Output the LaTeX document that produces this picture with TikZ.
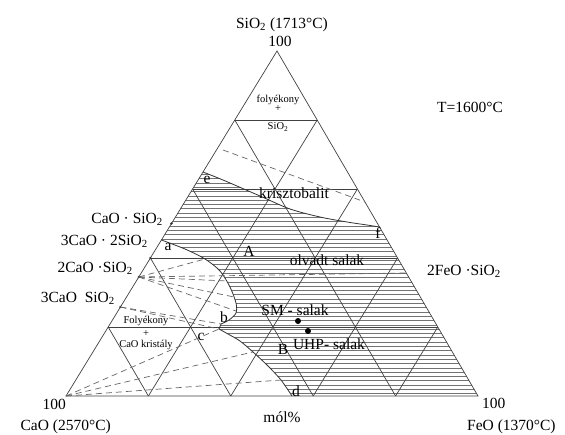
\documentclass[tikz,border=0pt]{standalone}
\usepackage{fontspec}
\setmainfont{Liberation Serif}
\usetikzlibrary{calc}
\tikzset{
  gridline/.style={line width=0.7pt, draw=black!75},
  bound/.style={line width=0.8pt, draw=black!80},
  tie/.style={line width=0.7pt, draw=black!60, dash pattern=on 6pt off 4pt},
  hatch/.style={line width=0.55pt, draw=black!55},
  lab/.style={font=\fontsize{15.5}{18}\selectfont, inner sep=0pt},
  smalllab/.style={font=\fontsize{10.5}{12}\selectfont, inner sep=0pt},
}
\begin{document}
\begin{tikzpicture}[x=1pt,y=-1pt]
\useasboundingbox (0,0) rectangle (565,434);
\coordinate (L) at (66,396);
\coordinate (R) at (478,396);
\coordinate (T) at (277,51);
% hatching of the liquid slag region
\begin{scope}
\clip plot[smooth] coordinates {(203,172) (223,180) (260,196) (290,209) (320,217) (347,222) (367,225) (379.5,227)}
  -- (R) -- (292,396)
  -- plot[smooth] coordinates {(292,396) (281,380) (268,366) (253,352) (240,341) (228,334) (219,329)}
  -- plot[smooth] coordinates {(221,324) (229,320) (236,313) (236,303) (230,287) (220,271) (205,259) (185,249) (161.4,240)}
  -- cycle;
\foreach \y in {170,174.3,...,398} \draw[hatch] (60,\y) -- (490,\y);
\end{scope}
% grid
\foreach \k in {1,2,3,4}{
  \draw[gridline] ($(L)!\k/5!(T)$) -- ($(R)!\k/5!(T)$);
  \draw[gridline] ($(L)!\k/5!(R)$) -- ($(L)!\k/5!(T)$);
  \draw[gridline] ($(L)!\k/5!(R)$) -- ($(R)!{1-\k/5}!(T)$);
}
\draw[gridline] (L) -- (R) -- (T) -- cycle;
% boundary curves
\draw[bound] plot[smooth] coordinates {(203,172) (223,180) (260,196) (290,209) (320,217) (347,222) (367,225) (379.5,227)};
\draw[bound] plot[smooth] coordinates {(161.4,240) (185,249) (205,259) (220,271) (230,287) (236,303) (236,313) (229,320) (221,324)};
\draw[bound] (221,324) -- (219,329);
\draw[bound] plot[smooth] coordinates {(219,329) (228,334) (240,341) (253,352) (268,366) (281,380) (292,396)};
% compound points
\coordinate (CS) at ($(L)!0.5!(T)$);
\coordinate (C3S2) at ($(L)!0.4!(T)$);
\coordinate (C2S) at (138.8,277);
\coordinate (C3S) at (120.4,307);
\coordinate (F2S) at (406.3,273);
\coordinate (pb) at (221,324);
\coordinate (pc) at (219,329);
\coordinate (t1) at (205,259);
\coordinate (t2) at (227,281);
\coordinate (t3) at (234,297);
\coordinate (t4) at (236,311);
\coordinate (t5) at (253,352);
\coordinate (t6) at (281,380);
\coordinate (k1) at (223,150);
\coordinate (k2) at (365,202);
\foreach \p in {CS,C3S2,C2S,C3S} \fill[black!80] (\p) circle (1.3);
% tie lines
\draw[tie] (C2S) -- (F2S);
\foreach \p in {t1,t2,t3,t4} \draw[tie] (C2S) -- (\p);
\draw[tie] (C3S) -- (pb);
\draw[tie] (C3S) -- (pc);
\draw[tie] (L) -- (pc);
\draw[tie] (L) -- (t5);
\draw[tie] (L) -- (t6);
\draw[tie] (k1) -- (k2);
% dots
\fill (298,321) circle (3);
\fill (308,331) circle (3);
% labels
\node[lab, anchor=base] (nSi) at (282,28) {SiO\textsubscript{2} (1713°C)};
\node[lab, anchor=base] (n100t) at (280,46) {100};
\node[lab, anchor=base] (nT) at (470,112) {T=1600°C};
\node[lab, anchor=base west] (nF2S) at (427,275) {2FeO ·SiO\textsubscript{2}};
\node[lab, anchor=base west] (n100r) at (482,408) {100};
\node[lab, anchor=base west] (nFeO) at (467,430) {FeO (1370°C)};
\node[lab, anchor=base east] (n100l) at (66,409) {100};
\node[lab, anchor=base east] (nCaO) at (111,430) {CaO (2570°C)};
\node[lab, anchor=base] (nmol) at (282,422) {mól\%};
\node[lab, anchor=base east] (nCS) at (163,223) {CaO · SiO\textsubscript{2}};
\node[lab, anchor=base east] (nC3S2) at (148,245) {3CaO · 2SiO\textsubscript{2}};
\node[lab, anchor=base east] (nC2S) at (133,272) {2CaO ·SiO\textsubscript{2}};
\node[lab, anchor=base east] (nC3S) at (115,302) {3CaO\ \ SiO\textsubscript{2}};
\node[smalllab] (nf1) at (278,100) {folyékony};
\node[smalllab] (nf2) at (278,109) {+};
\node[smalllab] (nf3) at (278,127) {SiO\textsubscript{2}};
\node[smalllab] (ng1) at (146,321) {Folyékony};
\node[smalllab] (ng2) at (146,334) {+};
\node[smalllab] (ng3) at (146,345) {CaO kristály};
\node[lab] (nkr) at (294,193) {krisztobalit};
\node[lab] (nol) at (327,260) {olvadt salak};
\node[lab] (nA) at (249,251) {A};
\node[lab] (nSM) at (295,310) {SM - salak};
\node[lab] (nUHP) at (329,344) {UHP- salak};
\node[lab] (nB) at (283,349) {B};
\node[lab] (na) at (168,247) {a};
\node[lab] (nb) at (224,317) {b};
\node[lab] (nc) at (201,337) {c};
\node[lab] (nd) at (296,391) {d};
\node[lab] (ne) at (207,180) {e};
\node[lab] (nf) at (378,233) {f};
\end{tikzpicture}
\end{document}
